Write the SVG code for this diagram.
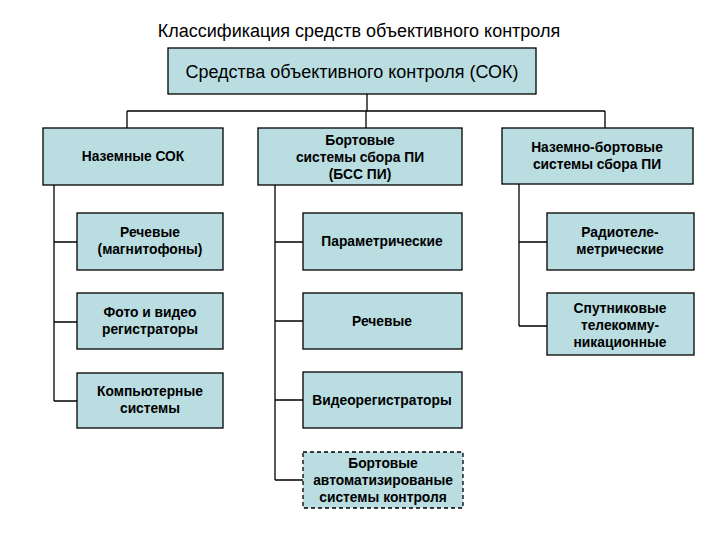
<svg xmlns="http://www.w3.org/2000/svg" width="720" height="540" viewBox="0 0 720 540">
<style>
.box{fill:#b9dde1;stroke:#000;stroke-width:1.3}
.dash{stroke-dasharray:4 3}
.t{font-family:"Liberation Sans",Arial,sans-serif;font-size:13.8px;font-weight:bold;text-anchor:middle;fill:#000}
.big{font-family:"Liberation Sans",Arial,sans-serif;font-size:18px;text-anchor:middle;fill:#000}
.c{fill:none;stroke:#000;stroke-width:1.3}
</style>
<rect width="720" height="540" fill="#fff"/>
<text class="big" x="359" y="37">Классификация средств объективного контроля</text>
<g id="connectors">
<path class="c" d="M367 94V111M127 111H605M127 111V128M366 111V128M605 111V128"/>
<path class="c" d="M54 185V401M54 242H77M54 322H77M54 401H77"/>
<path class="c" d="M275 185V480M275 242H303M275 321H303M275 400H303M275 480H303"/>
<path class="c" d="M519 184V326M519 242H547M519 326H547"/>
</g>
<g id="root"><rect class="box" x="168" y="48" width="368" height="46"/><text class="big" x="352" y="78">Средства объективного контроля (СОК)</text></g>
<g id="ground"><rect class="box" x="43" y="128" width="180" height="57"/><text class="t" x="133" y="161">Наземные СОК</text></g>
<g id="bss"><rect class="box" x="258" y="128" width="204" height="57"/><text class="t" x="360" y="145">Бортовые</text><text class="t" x="360" y="162">системы сбора ПИ</text><text class="t" x="360" y="179">(БСС ПИ)</text></g>
<g id="groundboard"><rect class="box" x="502" y="128" width="191" height="56"/><text class="t" x="597" y="152">Наземно-бортовые</text><text class="t" x="597" y="169">системы сбора ПИ</text></g>
<g id="g1"><rect class="box" x="77" y="213" width="146" height="57"/><text class="t" x="150" y="237">Речевые</text><text class="t" x="150" y="254">(магнитофоны)</text></g>
<g id="g2"><rect class="box" x="77" y="293" width="146" height="56"/><text class="t" x="150" y="317">Фото и видео</text><text class="t" x="150" y="334">регистраторы</text></g>
<g id="g3"><rect class="box" x="77" y="373" width="146" height="55"/><text class="t" x="150" y="396">Компьютерные</text><text class="t" x="150" y="413">системы</text></g>
<g id="b1"><rect class="box" x="303" y="213" width="159" height="57"/><text class="t" x="382" y="246">Параметрические</text></g>
<g id="b2"><rect class="box" x="303" y="293" width="159" height="56"/><text class="t" x="382" y="326">Речевые</text></g>
<g id="b3"><rect class="box" x="303" y="372" width="159" height="56"/><text class="t" x="382" y="405">Видеорегистраторы</text></g>
<g id="b4"><rect class="box dash" x="303" y="452" width="160" height="56"/><text class="t" x="383" y="468">Бортовые</text><text class="t" x="383" y="485">автоматизированые</text><text class="t" x="383" y="502">системы контроля</text></g>
<g id="r1"><rect class="box" x="547" y="213" width="147" height="57"/><text class="t" x="620" y="237">Радиотеле-</text><text class="t" x="620" y="254">метрические</text></g>
<g id="r2"><rect class="box" x="547" y="293" width="147" height="62"/><text class="t" x="620" y="313">Спутниковые</text><text class="t" x="620" y="330">телекомму-</text><text class="t" x="620" y="347">никационные</text></g>
</svg>
